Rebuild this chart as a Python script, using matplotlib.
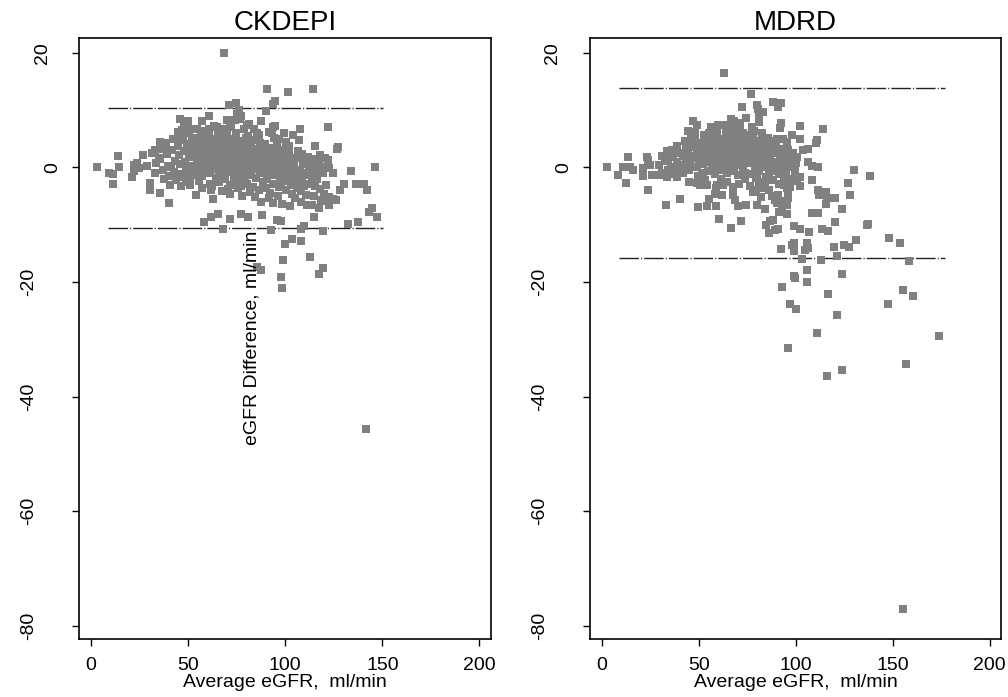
import matplotlib
matplotlib.use('Agg')
import matplotlib.pyplot as plt
from matplotlib.transforms import offset_copy

plt.rcParams['font.family'] = ['Liberation Sans', 'DejaVu Sans']
plt.rcParams['axes.unicode_minus'] = False

# ---- data: (average eGFR, difference) ----
ckdepi_pts = [
    # core
    (31.5, 2.5), (32.8, -1.0), (33.4, 0.8),
    (35.6, 1.5), (36.9, -0.5), (36.2, 3.2), (37.5, -2.0),
    (38.8, 4.2), (39.6, 0.2), (40.3, -1.5), (39.1, 2.4), (40.8, -3.1),
    (41.7, 3.0), (42.5, -0.8), (43.2, 1.2), (42.0, 5.0), (43.6, -2.2), (41.4, 0.0),
    (44.6, 6.2), (45.3, 2.1), (46.1, -1.2), (44.9, 3.8), (45.8, 0.6), (46.4, -3.3), (45.1, 4.8),
    (47.5, 5.5), (48.3, 1.0), (49.0, -0.4), (47.9, 2.9), (48.8, -2.6), (49.4, 4.1), (48.1, 7.0), (47.2, -1.6),
    (50.6, 6.0), (51.4, 3.3), (52.1, 0.3), (50.9, -1.9), (51.8, 4.6), (52.4, 1.8), (51.1, -3.0), (50.3, 2.4), (52.6, -0.9),
    (53.6, 5.2), (54.4, 2.6), (55.1, -0.2), (53.9, 3.9), (54.8, 1.1), (55.4, -2.4), (54.2, -4.8), (53.3, 4.4), (55.6, 0.7), (54.0, -1.3),
    (56.6, 6.4), (57.4, 3.0), (58.1, 0.5), (56.9, -1.5), (57.8, 4.9), (58.4, 1.9), (57.1, -3.5), (56.3, 2.4), (58.6, -0.6), (57.6, 5.8),
    (59.6, 4.0), (60.4, 1.4), (61.1, -1.0), (59.9, 2.7), (60.8, 6.8), (61.4, -2.8), (60.1, 0.2), (59.3, 3.5), (61.6, -4.0), (60.6, 5.3),
    (62.6, 5.0), (63.4, 2.2), (64.1, -0.3), (62.9, 3.6), (63.8, 0.9), (64.4, -1.8), (63.1, 7.3), (62.3, -3.2), (64.6, 4.4), (63.6, 1.6), (62.8, -5.5),
    (65.6, 6.0), (66.4, 3.1), (67.1, 0.4), (65.9, 2.0), (66.8, -1.2), (67.4, 4.7), (66.1, -2.6), (65.3, 1.2), (67.6, -4.1), (66.6, 5.4), (65.8, -0.6),
    (68.6, 4.2), (69.4, 1.7), (70.1, -0.8), (68.9, 3.3), (69.8, 6.4), (70.4, 0.6), (69.1, -2.0), (68.3, 2.6), (70.6, -3.8), (69.6, 5.6), (68.8, -1.4), (70.2, 8.2),
    (71.6, 5.0), (72.4, 2.3), (73.1, -0.2), (71.9, 3.9), (72.8, 1.0), (73.4, -1.6), (72.1, 7.0), (71.3, -3.0), (73.6, 4.5), (72.6, 0.3), (71.8, -4.6), (73.2, 2.8),
    (74.6, 6.1), (75.4, 3.2), (76.1, 0.8), (74.9, 1.9), (75.8, -1.0), (76.4, 4.6), (75.1, -2.4), (74.3, 0.0), (76.6, 8.5), (75.6, -3.6), (74.8, 5.4), (76.2, 2.5),
    (77.6, 4.0), (78.4, 1.5), (79.1, -0.5), (77.9, 3.0), (78.8, 6.7), (79.4, -1.9), (78.1, 2.2), (77.3, -3.3), (79.6, 5.2), (78.6, 0.4), (77.8, -5.0),
    (80.6, 5.5), (81.4, 2.6), (82.1, 0.1), (80.9, 3.7), (81.8, 1.2), (82.4, -1.4), (81.1, 7.6), (80.3, -2.8), (82.6, 4.4), (81.6, -4.2), (80.8, 0.8),
    (83.6, 4.8), (84.4, 2.0), (85.1, -0.3), (83.9, 3.3), (84.8, -1.8), (85.4, 6.0), (84.1, 0.9), (83.3, -3.4), (85.6, 1.6), (84.6, -5.2),
    (86.6, 5.6), (87.4, 3.0), (88.1, 0.5), (86.9, -1.0), (87.8, 2.0), (88.4, -2.6), (87.1, 4.3), (86.3, -4.0), (88.6, 1.2), (87.6, -6.0),
    (89.6, 4.1), (90.4, 1.4), (91.1, -0.6), (89.9, 2.7), (90.8, -2.0), (91.4, 6.2), (90.1, -3.5), (89.3, 0.4), (91.6, -5.3),
    (92.6, 3.4), (93.4, 0.9), (94.1, -1.3), (92.9, 2.0), (93.8, -2.9), (94.4, 5.2), (93.1, -0.2), (92.3, -4.4), (94.6, 7.2), (93.6, -6.2),
    (95.6, 2.6), (96.4, 0.2), (97.1, -1.8), (95.9, 3.9), (96.8, -3.4), (97.4, 1.3), (96.1, -5.0), (95.3, -0.8), (96.6, 5.0),
    (98.6, 1.8), (99.4, -0.5), (100.1, -2.4), (98.9, 3.1), (99.8, 0.7), (100.4, -4.0), (99.1, -1.4), (98.3, -6.3), (100.6, 4.5),
    (101.6, 1.0), (102.4, -1.2), (103.1, -3.0), (101.9, 2.4), (102.8, -0.2), (103.4, -4.6), (102.1, 3.8), (101.3, -2.0), (102.6, -6.8),
    (104.6, 0.2), (105.4, -1.8), (106.1, -3.6), (104.9, 1.6), (105.8, -0.8), (106.4, 2.9), (105.1, -5.3), (104.3, -2.5),
    (107.6, -0.5), (108.4, -2.3), (109.1, 1.0), (107.9, -4.1), (108.8, 2.4), (109.4, -1.2), (108.1, -6.0), (107.3, 4.8),
    (110.6, -1.0), (111.4, 0.6), (112.1, -2.9), (110.9, -4.8), (111.8, 1.8), (112.4, -0.2), (111.1, -6.5),
    (113.6, -1.6), (114.4, 0.0), (115.1, -3.3), (113.9, 1.4), (114.8, -5.0), (115.4, 3.8), (114.1, -2.2),
    (116.6, -2.0), (117.4, 0.8), (118.1, -3.8), (116.9, -0.6), (117.8, 2.2), (118.4, -5.6),
    (119.6, -1.0), (120.4, 1.6), (121.1, -3.0), (119.9, -4.6), (120.6, 0.0),
    # extra core fill
    (55.9, 3.6), (59.0, 1.0), (62.0, 4.3), (64.9, 2.9), (67.9, 1.1), (70.9, 4.9), (73.9, 3.5),
    (76.9, -0.2), (79.9, 4.4), (82.9, 2.7), (85.9, 0.2), (88.9, 3.5), (91.9, -1.2), (94.9, 1.6),
    (97.9, -2.8), (100.9, -0.9), (103.9, 0.6), (106.9, -1.4), (109.9, -3.2), (112.9, -1.3),
    # spread and outliers
    (68.7, 19.9), (90.4, 13.7), (101.6, 13.1), (114.4, 13.7), (74.4, 11.3), (71.0, 10.9),
    (94.7, 11.6), (93.7, 11.1), (90.1, 9.9), (76.3, 10.0), (75.0, 9.3), (77.0, 9.0), (73.9, 8.3),
    (46.0, 8.5), (49.8, 8.1), (57.2, 8.1), (60.6, 9.0), (65.0, 7.1), (68.4, 6.7), (71.5, 7.4),
    (80.4, 7.4), (83.9, 6.7), (87.7, 8.1), (93.9, 7.1), (93.4, 6.0), (99.4, 6.0), (104.0, 5.7),
    (107.7, 6.7), (121.8, 7.1), (52.0, 6.7), (54.6, 6.7), (46.9, 6.5), (35.7, 4.5), (37.4, 3.8),
    (127.0, 3.5), (126.6, 3.2),
    (2.9, 0.0), (13.8, 2.0), (9.0, -0.9), (11.5, -1.1), (14.6, 0.0), (11.5, -2.8),
    (21.9, 0.5), (23.6, 0.7), (21.9, -0.7), (24.5, -0.1), (21.0, -1.6), (27.0, 2.2), (28.8, 0.3),
    (30.5, -2.7), (30.1, -3.9), (35.7, -4.5), (40.3, -6.2), (33.0, 3.1), (34.8, 1.6),
    (121.8, 1.3), (122.6, -0.1), (124.4, -1.0), (133.8, -0.7), (146.3, 0.0),
    (136.4, -2.8), (140.4, -2.9), (142.0, -3.9), (130.4, -2.9), (128.3, -4.0),
    (122.6, -5.1), (124.4, -5.5), (126.0, -5.7), (119.2, -5.9), (122.6, -6.5),
    (132.1, -9.9), (137.3, -9.6), (144.5, -7.1), (147.3, -8.6), (143.3, -7.7),
    (117.5, -7.1), (114.0, -6.5), (114.9, -8.7), (119.2, -11.1),
    (67.9, -10.8), (58.0, -9.6), (61.8, -8.7), (65.5, -8.1), (71.8, -9.0), (77.3, -8.1),
    (81.0, -8.6), (88.2, -8.3), (92.9, -11.0), (96.0, -9.2), (97.7, -9.4),
    (99.7, -13.3), (103.4, -12.5), (108.0, -12.8), (108.0, -10.8), (109.4, -10.3),
    (99.0, -16.1), (112.7, -15.6), (87.3, -17.9), (85.3, -17.4), (97.7, -19.1), (98.2, -21.1),
    (119.2, -17.6), (117.5, -18.6), (141.6, -45.7),
]

mdrd_pts = [
    # core
    (29.6, 0.5), (30.8, -1.0), (31.2, 2.0),
    (32.6, 1.2), (33.9, -0.4), (33.3, 2.8),
    (35.6, 0.0), (36.4, 1.8), (37.1, -1.2), (36.0, 3.0),
    (38.6, 1.0), (39.4, 2.6), (40.1, -0.6), (38.9, 3.8), (39.8, 0.2),
    (41.6, 2.0), (42.4, 0.4), (43.1, 3.4), (41.9, -1.0), (42.8, 4.6), (43.4, 1.2),
    (44.6, 2.8), (45.4, 1.0), (46.1, 4.2), (44.9, -0.5), (45.8, 5.4), (46.4, 1.9), (45.1, -2.5),
    (47.6, 3.5), (48.4, 1.6), (49.1, 0.0), (47.9, 5.0), (48.8, 2.4), (49.4, -1.5), (48.1, 6.2),
    (50.6, 2.2), (51.4, 4.2), (52.1, 0.6), (50.9, 3.0), (51.8, -1.0), (52.4, 5.6), (51.1, 1.4), (50.3, -3.0),
    (53.6, 3.0), (54.4, 1.0), (55.1, 4.8), (53.9, 2.0), (54.8, -0.6), (55.4, 6.0), (54.2, 3.8), (53.3, -2.2),
    (56.6, 2.4), (57.4, 4.2), (58.1, 0.4), (56.9, 5.4), (57.8, 1.6), (58.4, -1.2), (57.1, 3.2), (56.3, 7.0), (58.6, -3.6),
    (59.6, 3.4), (60.4, 1.2), (61.1, 5.0), (59.9, 2.4), (60.8, -0.4), (61.4, 4.2), (60.1, 0.4), (59.3, 6.4), (61.6, -2.0), (60.6, 1.8),
    (62.6, 2.8), (63.4, 4.6), (64.1, 0.8), (62.9, 3.6), (63.8, 5.8), (64.4, -1.0), (63.1, 2.0), (62.3, 7.4), (64.6, -2.6), (63.6, 1.2),
    (65.6, 3.0), (66.4, 1.4), (67.1, 4.8), (65.9, 2.2), (66.8, -0.6), (67.4, 6.2), (66.1, 0.2), (65.3, 3.8), (67.6, -3.4), (66.6, 8.4),
    (68.6, 2.2), (69.4, 4.2), (70.1, 0.6), (68.9, 5.6), (69.8, 3.2), (70.4, -1.4), (69.1, 1.4), (68.3, 6.8), (70.6, -2.8), (69.6, 4.8),
    (71.6, 3.6), (72.4, 1.6), (73.1, 5.2), (71.9, 2.6), (72.8, -0.4), (73.4, 4.2), (72.1, 0.4), (71.3, 7.8), (73.6, -2.0), (72.6, 6.0),
    (74.6, 2.8), (75.4, 4.6), (76.1, 0.8), (74.9, 3.6), (75.8, 5.6), (76.4, -1.2), (75.1, 1.8), (74.3, 8.6), (76.6, -3.2),
    (77.6, 2.2), (78.4, 4.0), (79.1, 0.2), (77.9, 5.4), (78.8, 3.0), (79.4, -1.8), (78.1, 1.2), (77.3, 6.6), (79.6, -4.0),
    (80.6, 3.2), (81.4, 1.4), (82.1, 4.6), (80.9, -0.6), (81.8, 2.4), (82.4, 6.0), (81.1, -2.6), (80.3, 0.4),
    (83.6, 2.0), (84.4, 0.0), (85.1, 3.8), (83.9, 1.2), (84.8, -1.6), (85.4, 5.2), (84.1, -3.0), (83.3, 2.8),
    (86.6, 1.4), (87.4, 3.2), (88.1, -0.6), (86.9, 2.2), (87.8, 4.6), (88.4, -2.2), (87.1, 0.4), (86.3, -4.0),
    (89.6, 1.0), (90.4, 2.6), (91.1, -1.2), (89.9, 3.8), (90.8, 0.0), (91.4, -2.8), (90.1, 5.0),
    (92.6, 0.4), (93.4, 2.0), (94.1, -1.6), (92.9, 3.2), (93.8, -3.0), (94.4, 1.2),
    (95.6, 0.0), (96.4, 1.6), (97.1, -2.0), (95.9, 3.0), (96.8, -3.4),
    (98.6, 2.6), (99.4, -0.6), (100.1, 0.8), (98.9, -2.4),
    # extra core fill
    (44.0, 1.5), (47.0, 2.0), (50.0, 0.8), (52.9, 4.6), (55.9, 2.8), (58.9, 5.0), (61.9, 3.0),
    (64.9, 5.2), (67.9, 3.4), (70.9, 5.4), (73.9, 1.0), (76.9, 4.0), (79.9, 1.8), (82.9, 3.8),
    (85.9, 2.6), (88.9, 0.8), (91.9, 1.8), (94.9, -0.8), (62.0, -0.2), (68.0, -0.2),
    (74.0, -1.0), (80.0, -1.2), (86.0, -1.2), (57.0, -0.2), (52.0, -1.6), (65.0, 7.2), (71.0, 6.6),
    # spread and outliers
    (63.0, 16.5), (76.9, 12.8), (72.1, 10.6), (79.8, 10.9), (80.7, 10.2), (82.9, 9.6), (81.2, 9.0),
    (88.1, 11.4), (92.2, 11.2), (91.0, 10.6), (101.9, 7.3), (113.9, 6.7), (92.2, 7.8), (91.9, 6.9),
    (81.2, 7.9), (68.1, 8.1), (70.4, 7.8), (60.0, 7.5), (46.8, 8.1), (48.9, 7.4), (44.6, 6.4),
    (64.0, 6.7), (56.6, 6.5), (77.3, 7.1), (78.6, 6.3),
    (110.8, 4.8), (110.5, 4.2), (102.2, 5.0), (103.9, 3.1), (106.5, 3.2), (97.9, 5.7), (93.3, 5.0),
    (95.3, 4.5), (100.5, 1.8), (97.9, 0.6), (106.5, 1.0), (108.2, 0.2), (111.3, 0.0), (129.8, -0.4),
    (138.0, -1.5), (108.2, -2.2), (101.9, -3.2), (102.2, -1.7), (100.5, -1.9), (126.7, -2.7),
    (111.3, -3.9), (111.7, -4.8), (115.6, -4.2), (116.0, -5.3), (120.0, -5.3), (128.0, -4.8),
    (115.5, -6.4), (123.7, -7.3), (108.2, -7.9), (111.3, -8.0), (120.0, -9.6), (137.3, -9.9),
    (136.5, -10.0), (113.7, -10.8), (116.8, -11.1), (107.0, -11.3), (101.9, -10.8), (98.8, -10.3),
    (131.1, -12.7), (148.3, -12.3), (153.5, -13.1), (124.6, -13.6), (127.2, -13.9), (119.8, -13.8),
    (121.1, -15.4), (112.9, -16.1), (103.4, -16.0), (105.7, -13.2), (106.5, -14.1), (104.8, -14.4),
    (99.1, -13.2), (97.9, -13.5), (99.1, -14.5), (92.4, -14.2), (158.5, -16.4),
    (106.0, -17.9), (99.1, -19.0), (99.6, -19.3), (105.7, -20.0), (123.7, -18.6), (93.1, -20.9),
    (116.5, -22.1), (155.2, -21.4), (160.4, -22.4), (147.5, -23.8), (97.1, -23.9), (100.0, -24.7),
    (121.1, -25.8), (110.7, -28.9), (95.7, -31.5), (156.9, -34.3), (123.7, -35.3), (116.3, -36.4),
    (173.6, -29.4), (155.4, -77.0),
    (2.8, 0.0), (13.6, 1.9), (10.7, 0.0), (14.5, 0.1), (8.4, -1.3), (12.4, -2.7), (15.8, -0.4),
    (21.3, -0.1), (23.9, 1.3), (23.4, 1.8), (24.8, 0.5), (21.0, -1.5), (25.6, -1.3), (29.9, -1.3),
    (23.9, -4.0), (32.9, -6.6), (40.3, -5.5), (33.7, -1.7), (38.9, -1.6), (35.1, 2.2), (34.2, 1.3),
    (38.5, 3.1),
    (49.7, -6.9), (54.4, -6.8), (58.9, -6.8), (60.6, -9.0), (66.4, -10.5), (71.8, -9.3),
    (55.4, -5.5), (58.3, -4.7), (61.8, -4.8), (70.4, -6.7), (74.3, -6.6), (79.8, -6.6), (84.1, -7.3),
    (84.5, -10.0), (86.7, -9.4), (88.1, -9.1), (85.9, -11.5), (89.3, -10.9), (91.0, -10.8),
    (90.2, -6.2), (92.8, -6.8), (93.6, -5.9), (95.3, -6.5), (96.2, -5.4), (91.5, -7.7), (95.3, -8.1),
    (87.6, -4.9), (91.0, -4.8), (89.3, -5.6), (81.9, -5.1), (95.3, -3.6), (96.2, -4.5),
    (68.7, -5.6), (67.8, -4.8), (48.9, -2.7), (54.0, -3.0), (59.2, -3.0), (62.6, -3.0),
    (78.1, -4.2), (82.4, -3.6), (84.1, -3.0),
]

# limits of agreement: (x start, x end, upper, lower)
ckdepi_loa = (8.8, 150.2, 10.45, -10.5)
mdrd_loa = (8.9, 177.0, 13.8, -15.8)

panels = [('CKDEPI', ckdepi_pts, ckdepi_loa), ('MDRD', mdrd_pts, mdrd_loa)]
x_ticks = [0, 50, 100, 150, 200]
y_ticks = [20, 0, -20, -40, -60, -80]
y_labels = ['20', '0', '-20', '-40', '-60', '-80']

fig = plt.figure(figsize=(10.08, 6.97), dpi=100)
rects = [[0.0784, 0.0832, 0.4084, 0.8623], [0.5853, 0.0832, 0.4077, 0.8623]]

for rect, (name, pts, loa) in zip(rects, panels):
    ax = fig.add_axes(rect)
    xs = [p[0] for p in pts]
    ys = [p[1] for p in pts]
    ax.plot(xs, ys, linestyle='none', marker='s', markersize=5.2,
            markeredgewidth=0, color='#808080', zorder=3)
    x0, x1, up, lo = loa
    for yv in (up, lo):
        ax.plot([x0, x1], [yv, yv], color='#222222', linewidth=1.0,
                dashes=(14, 1.5, 0.8, 1.5), zorder=2)
    ax.set_xlim(-6.2, 205.8)
    ax.set_ylim(-82.3, 22.6)
    ax.set_xticks(x_ticks)
    ax.set_yticks(y_ticks)
    ax.set_yticklabels([])
    ax.tick_params(direction='out', length=5, width=1, labelsize=14)
    ax.tick_params(axis='x', pad=8)
    # Stata-style rotated y labels: shorter labels sit nearer the axis
    for yv, lab in zip(y_ticks, y_labels):
        gap = {1: 26, 2: 37}.get(len(lab), 50)  # px left of the axis
        tr = offset_copy(ax.get_yaxis_transform(), fig=fig,
                         x=-gap * 0.72, units='points')
        ax.text(0, yv, lab, transform=tr, rotation=90, fontsize=14,
                ha='center', va='center', rotation_mode='anchor')
    for sp in ax.spines.values():
        sp.set_linewidth(1.2)
    ax.set_title(name, fontsize=20, pad=6)
    cx = rect[0] + rect[2] / 2
    fig.text(cx, 0.021, 'Average eGFR,  ml/min', fontsize=14,
             ha='center', va='center')

fig.text(0.25, 0.515, 'eGFR Difference, ml/min', rotation=90,
         ha='center', va='center', fontsize=14)

fig.savefig('out.png', dpi=100)
